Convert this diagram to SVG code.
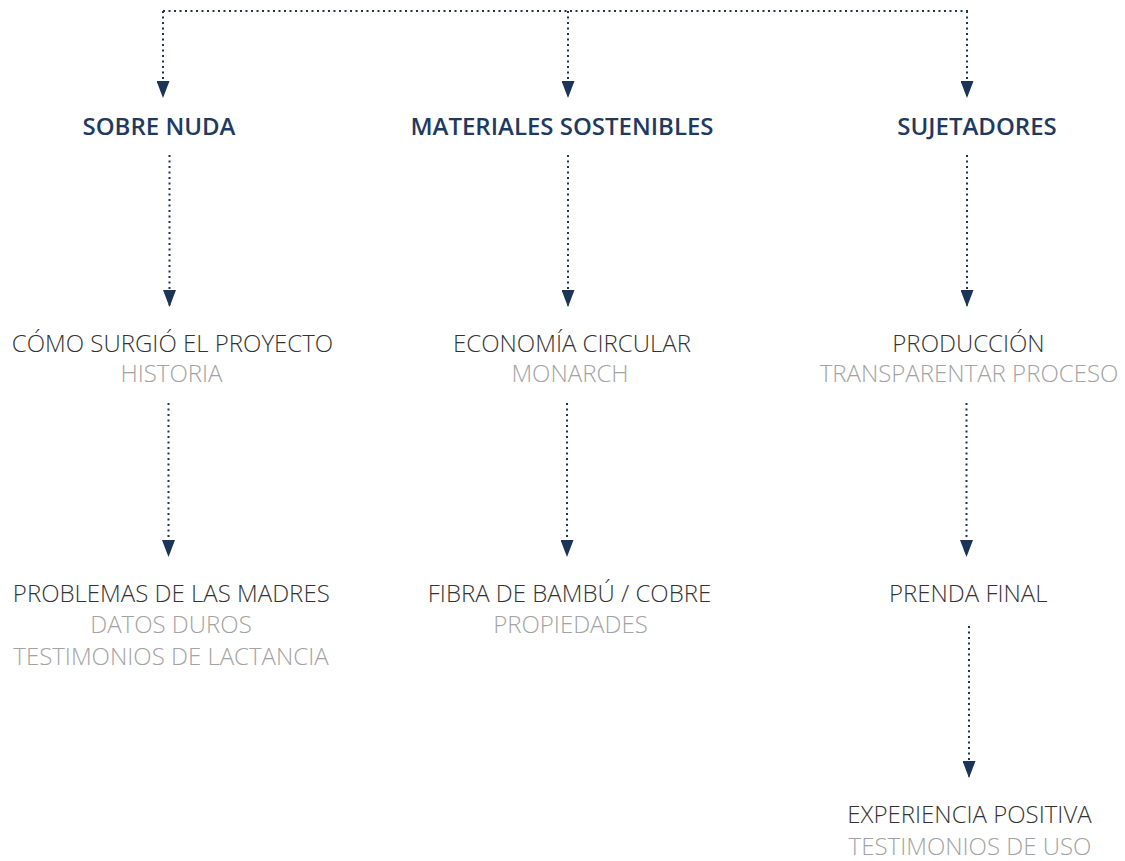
<svg xmlns="http://www.w3.org/2000/svg" width="1125" height="861" viewBox="0 0 1125 861">
<defs>
<style>
.c{fill:none;stroke:#1d3459;stroke-width:2;stroke-dasharray:2 3.5}
.a{marker-end:url(#ah)}
.h{font-family:"Open Sans","Noto Sans",sans-serif;font-weight:600;font-size:24px;fill:#1f3a62;text-anchor:middle}
.t{font-family:"Open Sans","Noto Sans",sans-serif;font-weight:300;font-size:24px;fill:#333333;text-anchor:middle}
.s{font-family:"Open Sans","Noto Sans",sans-serif;font-weight:300;font-size:24px;fill:#a3a3a3;text-anchor:middle}
</style>
<marker id="ah" viewBox="0 0 17 13" refX="17" refY="6.5" markerWidth="17" markerHeight="13" markerUnits="userSpaceOnUse" orient="auto">
<path d="M0,0 L17,6.5 L0,13 Z" fill="#1d3459"/>
</marker>
</defs>
<rect width="1125" height="861" fill="#ffffff"/>
<g id="connectors">
<path class="c" d="M163,11 H968"/>
<path class="c a" d="M163,11 V98"/>
<path class="c a" d="M568,11 V98"/>
<path class="c a" d="M967,11 V98"/>
<path class="c a" d="M169.5,155 V307"/>
<path class="c a" d="M568,155 V307"/>
<path class="c a" d="M967,155 V307"/>
<path class="c a" d="M168.5,403 V557"/>
<path class="c a" d="M567,403 V557"/>
<path class="c a" d="M966.5,403 V557"/>
<path class="c a" d="M969,626 V778"/>
</g>
<g id="sobre-nuda"><text class="h" x="159" y="135">SOBRE NUDA</text></g>
<g id="materiales"><text class="h" x="562" y="135">MATERIALES SOSTENIBLES</text></g>
<g id="sujetadores"><text class="h" x="977" y="135">SUJETADORES</text></g>
<g id="como-surgio"><text class="t" x="172.5" y="352">CÓMO SURGIÓ EL PROYECTO</text><text class="s" x="171.5" y="382">HISTORIA</text></g>
<g id="economia"><text class="t" x="572" y="352">ECONOMÍA CIRCULAR</text><text class="s" x="570" y="382">MONARCH</text></g>
<g id="produccion"><text class="t" x="968.5" y="352">PRODUCCIÓN</text><text class="s" x="969" y="382">TRANSPARENTAR PROCESO</text></g>
<g id="problemas"><text class="t" x="171.3" y="601.5">PROBLEMAS DE LAS MADRES</text><text class="s" x="171" y="633">DATOS DUROS</text><text class="s" x="171" y="665">TESTIMONIOS DE LACTANCIA</text></g>
<g id="fibra"><text class="t" x="569.5" y="601.5">FIBRA DE BAMBÚ / COBRE</text><text class="s" x="570.5" y="633">PROPIEDADES</text></g>
<g id="prenda"><text class="t" x="968.3" y="601.5">PRENDA FINAL</text></g>
<g id="experiencia"><text class="t" x="969.5" y="823">EXPERIENCIA POSITIVA</text><text class="s" x="970" y="855">TESTIMONIOS DE USO</text></g>
</svg>
